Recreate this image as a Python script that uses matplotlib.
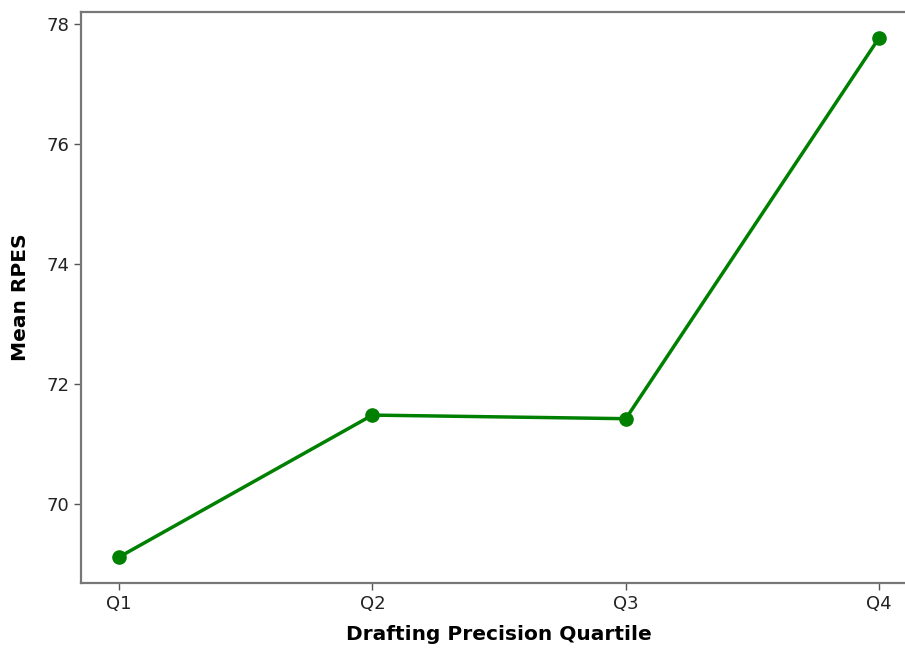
import matplotlib
matplotlib.use('Agg')
import matplotlib.pyplot as plt

# dados
quartiles = ['Q1', 'Q2', 'Q3', 'Q4']
mean_rpes = [69.11, 71.48, 71.42, 77.78]

fig = plt.figure(figsize=(9.05, 6.5), dpi=100)
# a imagem original está cortada à direita, por isso o eixo passa da borda
ax = fig.add_axes([0.0895, 0.103, 0.924, 0.879])

ax.plot(quartiles, mean_rpes, color='green', marker='o', linewidth=2.5, markersize=9.5)

ax.set_xlabel('Drafting Precision Quartile', fontsize=14.5, fontweight='bold', labelpad=9)
ax.set_ylabel('Mean RPES', fontsize=14.5, fontweight='bold', labelpad=12)
ax.tick_params(labelsize=13, length=5, width=1, color='#555555', labelcolor='#222222')
ax.set_yticks([70, 72, 74, 76, 78])

for side in ['left', 'bottom', 'top']:
    ax.spines[side].set_color('#777777')
    ax.spines[side].set_linewidth(1.6)
ax.spines['right'].set_visible(False)

fig.savefig('out.png', dpi=100)
